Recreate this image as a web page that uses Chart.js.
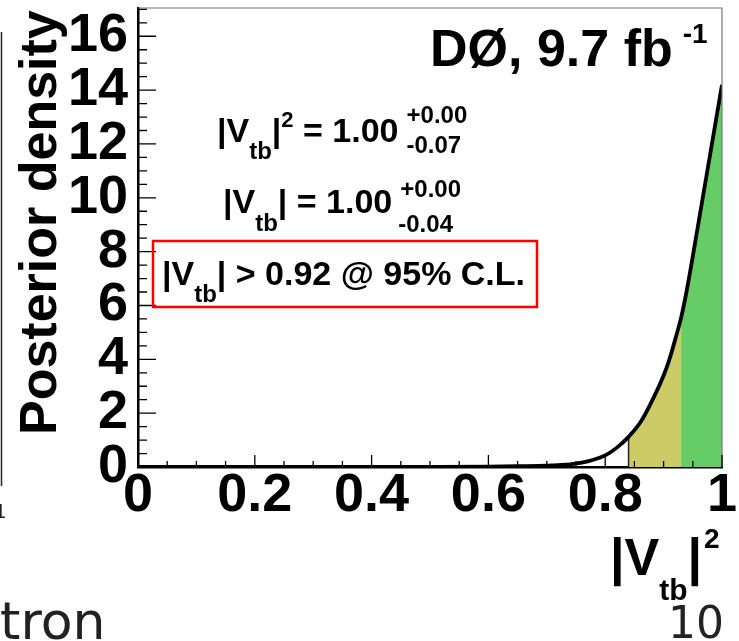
<!DOCTYPE html>
<html>
<head>
<meta charset="utf-8">
<script src="https://cdn.jsdelivr.net/npm/chart.js@4.4.0/dist/chart.umd.min.js"></script>
<style>
  body { margin: 0; background: #fff; }
  #wrap { width: 739px; height: 641px; position: relative; }
</style>
</head>
<body>
<div id="wrap"><canvas id="vtb-chart"></canvas></div>
<script>
// posterior density of |Vtb|^2, sampled along the x axis
var vtb2 = [0, 0.1, 0.2, 0.3, 0.4, 0.5, 0.6, 0.65, 0.70, 0.72, 0.74, 0.76, 0.78, 0.80,
            0.82, 0.84, 0.86, 0.88, 0.90, 0.91, 0.92, 0.93, 0.94, 0.96, 0.98, 1.00];
var density = [0, 0, 0, 0, 0.001, 0.004, 0.015, 0.03, 0.05, 0.07, 0.10, 0.16, 0.27, 0.43,
               0.72, 1.12, 1.65, 2.45, 3.4, 4.0, 4.75, 5.55, 6.6, 9.1, 11.65, 14.2];

var xTicks = [0, 0.2, 0.4, 0.6, 0.8, 1];
var yTicks = [0, 2, 4, 6, 8, 10, 12, 14, 16];

var limit95 = 0.84;  // 95% C.L. edge
var band68 = 0.93;   // lower edge of the 68% band

var points = vtb2.map(function (x, i) { return { x: x, y: density[i] }; });
var limitY = density[vtb2.indexOf(limit95)];

var boldFont = '"Liberation Sans", Arial, sans-serif';

function richText(ctx, x, y, parts) {
    parts.forEach(function (p) {
        ctx.font = "bold " + p.size + "px " + boldFont;
        ctx.fillText(p.t, x, y + (p.dy || 0));
        x += ctx.measureText(p.t).width;
    });
    return x;
}

// small ticks pointing into the frame, like the ROOT style
function drawTicks(ctx, scale, majors, nSub, majorLen, minorLen, horizontal) {
    var area = scale.chart.chartArea;
    ctx.strokeStyle = "#000";
    ctx.lineWidth = 1.3;
    ctx.beginPath();
    for (var i = 0; i < majors.length; i++) {
        var p = scale.getPixelForValue(majors[i]);
        if (horizontal) { ctx.moveTo(p, area.bottom); ctx.lineTo(p, area.bottom - majorLen); }
        else { ctx.moveTo(area.left, p); ctx.lineTo(area.left + majorLen, p); }
        if (i < majors.length - 1) {
            var step = (majors[i + 1] - majors[i]) / nSub;
            for (var k = 1; k < nSub; k++) {
                var q = scale.getPixelForValue(majors[i] + k * step);
                if (horizontal) { ctx.moveTo(q, area.bottom); ctx.lineTo(q, area.bottom - minorLen); }
                else { ctx.moveTo(area.left, q); ctx.lineTo(area.left + minorLen, q); }
            }
        }
    }
    // minor ticks above the last labelled value on y
    if (!horizontal) {
        var last = majors[majors.length - 1], st = (majors[1] - majors[0]) / nSub;
        for (var v = last + st; v < scale.max; v += st) {
            var r = scale.getPixelForValue(v);
            ctx.moveTo(area.left, r); ctx.lineTo(area.left + minorLen, r);
        }
    }
    ctx.stroke();
}

var decorPlugin = {
    id: "decor",
    afterDraw: function (chart) {
        var ctx = chart.ctx, a = chart.chartArea;
        ctx.save();

        // frame top and right
        ctx.strokeStyle = "#777";
        ctx.lineWidth = 1.2;
        ctx.beginPath();
        ctx.moveTo(a.left, a.top); ctx.lineTo(a.right, a.top); ctx.lineTo(a.right, a.bottom);
        ctx.stroke();

        drawTicks(ctx, chart.scales.x, xTicks, 4, 12, 6, true);
        drawTicks(ctx, chart.scales.y, yTicks, 4, 18, 9, false);

        ctx.fillStyle = "#000";
        ctx.textAlign = "left";
        ctx.textBaseline = "alphabetic";

        // experiment label
        var e = richText(ctx, 430, 66, [{ t: "DØ, 9.7 fb", size: 52 }]);
        richText(ctx, e + 10, 43, [{ t: "-1", size: 28 }]);

        // fit results
        var x1 = richText(ctx, 217, 142, [
            { t: "|V", size: 34 }, { t: "tb", size: 24, dy: 17 },
            { t: "|", size: 34 }, { t: "2", size: 22, dy: -15 }, { t: " = 1.00", size: 34 }]);
        richText(ctx, x1 + 8, 123, [{ t: "+0.00", size: 24 }]);
        richText(ctx, x1 + 8, 153, [{ t: "-0.07", size: 24 }]);

        var x2 = richText(ctx, 223, 213, [
            { t: "|V", size: 34 }, { t: "tb", size: 24, dy: 18 },
            { t: "| = 1.00", size: 34 }]);
        richText(ctx, x2 + 8, 197, [{ t: "+0.00", size: 24 }]);
        richText(ctx, x2 + 6, 232, [{ t: "-0.04", size: 24 }]);

        richText(ctx, 162, 285, [
            { t: "|V", size: 34 }, { t: "tb", size: 24, dy: 17 },
            { t: "| > 0.92 @ 95% C.L.", size: 34 }]);
        ctx.strokeStyle = "#ff0000";
        ctx.lineWidth = 2.5;
        ctx.strokeRect(153, 241, 384, 66);

        // axis titles
        var xt = richText(ctx, 610, 575, [{ t: "|V", size: 52 }, { t: "tb", size: 30, dy: 25 }, { t: "|", size: 52 }]);
        richText(ctx, xt + 2, 548, [{ t: "2", size: 28 }]);

        ctx.save();
        ctx.translate(56, 435);
        ctx.rotate(-Math.PI / 2);
        ctx.font = "bold 52px " + boldFont;
        ctx.fillText("Posterior density", 0, 0);
        ctx.restore();

        // slide leftovers around the figure
        ctx.fillStyle = "#222";
        ctx.font = '52px "DejaVu Sans", sans-serif';
        ctx.fillText("tron", 0, 639);
        ctx.textAlign = "right";
        ctx.font = '44px "DejaVu Sans", sans-serif';
        ctx.fillText("10", 724, 638);
        ctx.textAlign = "left";
        ctx.font = '20px "DejaVu Sans", sans-serif';
        ctx.fillText("1", -6, 518);
        ctx.strokeStyle = "#222";
        ctx.lineWidth = 1.5;
        ctx.beginPath();
        ctx.moveTo(1.5, 32); ctx.lineTo(1.5, 486);
        ctx.stroke();

        ctx.restore();
    }
};

var tickFont = { family: boldFont, size: 54, weight: "bold", lineHeight: 1 };

function noPadding(s) {
    s.paddingLeft = 0; s.paddingRight = 0; s.paddingTop = 0; s.paddingBottom = 0;
}

new Chart(document.getElementById("vtb-chart"), {
    type: "line",
    data: {
        datasets: [
            {
                data: points,
                borderColor: "#000",
                borderWidth: 3.8,
                pointRadius: 0,
                cubicInterpolationMode: "monotone",
                fill: false,
                order: 0
            },
            {
                data: [{ x: limit95, y: 0 }, { x: limit95, y: limitY }],
                borderColor: "#222",
                borderWidth: 1.5,
                pointRadius: 0,
                fill: false,
                order: 1
            },
            {
                data: points.filter(function (p) { return p.x >= limit95 && p.x <= band68; }),
                borderWidth: 0,
                pointRadius: 0,
                backgroundColor: "#cccc66",
                cubicInterpolationMode: "monotone",
                fill: "origin",
                order: 2
            },
            {
                data: points.filter(function (p) { return p.x >= band68; }),
                borderWidth: 0,
                pointRadius: 0,
                backgroundColor: "#66cc66",
                cubicInterpolationMode: "monotone",
                fill: "origin",
                order: 2
            }
        ]
    },
    options: {
        responsive: true,
        maintainAspectRatio: false,
        animation: false,
        layout: { padding: { top: 8, right: 17, left: 0, bottom: 0 } },
        plugins: { legend: { display: false }, tooltip: { enabled: false } },
        scales: {
            x: {
                type: "linear",
                min: 0,
                max: 1,
                grid: { display: false, drawTicks: false },
                border: { display: true, color: "#000", width: 2.5 },
                ticks: {
                    font: tickFont, color: "#000", padding: 2, maxRotation: 0, autoSkip: false,
                    callback: function (v) { return String(v); }
                },
                afterBuildTicks: function (s) { s.ticks = xTicks.map(function (v) { return { value: v }; }); },
                afterFit: function (s) { s.height = 174; noPadding(s); }
            },
            y: {
                type: "linear",
                min: 0,
                max: 17.05,
                grid: { display: false, drawTicks: false },
                border: { display: true, color: "#000", width: 2.5 },
                ticks: {
                    font: tickFont, color: "#000", padding: 10, autoSkip: false,
                    callback: function (v) { return String(v); }
                },
                afterBuildTicks: function (s) { s.ticks = yTicks.map(function (v) { return { value: v }; }); },
                afterFit: function (s) { s.width = 138; noPadding(s); }
            }
        }
    },
    plugins: [decorPlugin]
});
</script>
</body>
</html>
